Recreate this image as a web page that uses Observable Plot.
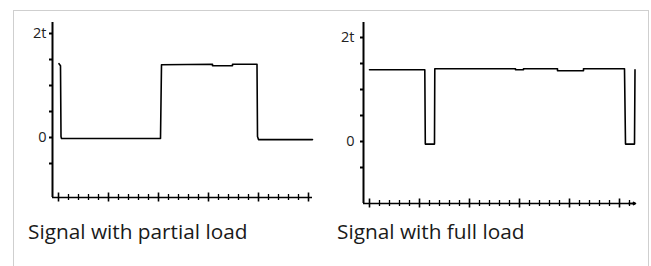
<!DOCTYPE html>
<html>
<head>
<meta charset="utf-8">
<script src="https://cdn.jsdelivr.net/npm/d3@7"></script>
<script src="https://cdn.jsdelivr.net/npm/@observablehq/plot@0.6"></script>
<style>
  html, body { margin: 0; padding: 0; background: #fff; width: 651px; height: 266px; overflow: hidden; }
  #frame { position: absolute; left: 13px; top: 10px; width: 634px; height: 300px;
           border: 1px solid #cfcfcf; border-bottom: none; }
  .panel { position: absolute; top: 0; }
  .caption { position: absolute; font-family: "Open Sans", sans-serif; font-size: 20.8px;
             color: #1a1a1a; white-space: nowrap; line-height: 1; }
</style>
</head>
<body>
<div id="frame"></div>
<div id="left" class="panel" style="left:0px"></div>
<div id="right" class="panel" style="left:325px"></div>
<div class="caption" id="capL" style="left:28px; top:221px">Signal with partial load</div>
<div class="caption" id="capR" style="left:337px; top:221px">Signal with full load</div>
<script>
// ---- data (time in tick units, signal in units of t) ----
const leftTime   = [0.05, 0.2, 0.25, 0.3, 10.2, 10.3, 15.4, 15.4, 17.4, 17.4, 19.85, 19.9, 20.0, 25.4];
const leftValue  = [1.42, 1.38, 0.02, -0.02, -0.02, 1.40, 1.41, 1.38, 1.38, 1.41, 1.41, 0.02, -0.04, -0.04];
const rightTime  = [0, 5.53, 5.58, 6.5, 6.53, 14.6, 14.6, 15.4, 15.4, 18.8, 18.8, 21.4, 21.4, 25.5, 25.6, 26.5, 26.55];
const rightValue = [1.38, 1.38, -0.05, -0.05, 1.40, 1.40, 1.38, 1.38, 1.40, 1.40, 1.36, 1.36, 1.40, 1.40, -0.05, -0.05, 1.38];
const yTicks = [-0.5, 0, 0.5, 1, 1.5, 2];
const yTickLabels = {"0": "0", "2": "2t"};
const leftXTicks = d3.range(0, 26);
const rightXTicks = d3.range(0, 27);

function panel({time, value, xTicks, xDomain, yDomain, width, height, mL, mR, mT, mB, arrow, pad}) {
  const data = time.map((t, i) => ({t, v: value[i]}));
  const y0 = yDomain[0];
  const pxPerT = (height - mT - mB) / (yDomain[1] - yDomain[0]);
  const h = 3 / pxPerT, H = 4.5 / pxPerT;
  const major = xTicks.filter(d => d % 5 === 0);
  const minor = xTicks.filter(d => d % 5 !== 0);
  const marks = [
    Plot.ruleX([xDomain[0]], {stroke: "#000", strokeWidth: 2}),
    Plot.ruleY([y0], {stroke: "#000", strokeWidth: 1.6}),
    Plot.ruleX(minor, {x: d => d, y1: y0 - h, y2: y0 + h, stroke: "#000", strokeWidth: 1.3}),
    Plot.ruleX(major, {x: d => d, y1: y0 - H, y2: y0 + H, stroke: "#000", strokeWidth: 1.6}),
    Plot.axisY({ticks: yTicks, tickFormat: d => yTickLabels[String(d)] ?? "", tickSize: 3, tickPadding: pad,
                label: null, fontSize: 14.5, fill: "#222", stroke: "#000", strokeWidth: 2, fontFamily: "Open Sans"}),
    Plot.line(data, {x: "t", y: "v", stroke: "#000", strokeWidth: 1.6, curve: "linear"})
  ];
  if (arrow) marks.push(Plot.arrow([{x1: xDomain[1] - 0.7, x2: xDomain[1]}], {x1: "x1", x2: "x2", y1: y0, y2: y0, headLength: 7, stroke: "#000", strokeWidth: 1.6}));
  return Plot.plot({
    width, height, marginLeft: mL, marginRight: mR, marginTop: mT, marginBottom: mB,
    x: {domain: xDomain, axis: null},
    y: {domain: yDomain, label: null},
    style: {background: "transparent", overflow: "visible"},
    marks
  });
}

document.getElementById("left").append(panel({
  time: leftTime, value: leftValue, xTicks: leftXTicks,
  xDomain: [-0.6, 25.4], yDomain: [(137 - 197) / 52, (137 - 22) / 52],
  width: 325, height: 205, mL: 52, mR: 13, mT: 22, mB: 8, arrow: false, pad: 3
}));
document.getElementById("right").append(panel({
  time: rightTime, value: rightValue, xTicks: rightXTicks,
  xDomain: [-0.6, 26.6], yDomain: [(141 - 203) / 52, (141 - 22) / 52],
  width: 326, height: 211, mL: 38, mR: 16, mT: 22, mB: 8, arrow: true, pad: 6
}));
</script>
</body>
</html>
